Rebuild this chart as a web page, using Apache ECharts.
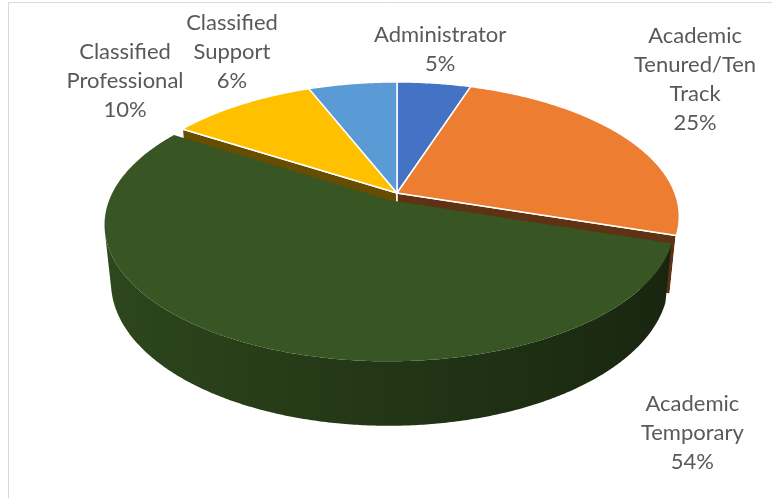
<!DOCTYPE html>
<html>
<head>
<meta charset="utf-8">
<script src="https://cdn.jsdelivr.net/npm/echarts@6/dist/echarts.min.js"></script>
<style>
  html, body { margin: 0; padding: 0; background: #ffffff; }
  #chart { width: 772px; height: 498px; }
</style>
</head>
<body>
<div id="chart"></div>
<script>
// Staff mix by employee group (share of headcount, %)
const categories = ['Administrator', 'Academic Tenured/Ten Track', 'Academic Temporary', 'Classified Professional', 'Classified Support'];
const labelLines = [['Administrator'], ['Academic', 'Tenured/Ten', 'Track'], ['Academic', 'Temporary'], ['Classified', 'Professional'], ['Classified', 'Support']];
const shares = [5, 25, 54, 10, 6];

// slice styling
const sliceColors = ['#4472C4', '#ED7D31', '#375623', '#FFC000', '#5B9BD5'];
const sliceEdges = ['#ffffff', '#ffffff', null, '#ffffff', '#ffffff'];
const explodeBy = [0, 0, 0.06, 0, 0];
// label anchors around the disc: [degrees clockwise from 12 o'clock, distance in radii]
const labelPlace = [[8, 1.381], [51, 1.625], [150, 1.61], [311.3, 1.531], [331.2, 1.517]];

const RAD = Math.PI / 180;
const total = shares.reduce((a, b) => a + b, 0);
const startDeg = [];
(function () { let acc = 0; shares.forEach(v => { startDeg.push(acc / total * 360); acc += v; }); })();

// camera: unit disc, y up, z toward the viewer, perspective projection
const VIEW = { cx: 397, cy: 193, k: 278, tilt: 27.97, dist: 5.08, thick: 0.235 };
const SIN = Math.sin(VIEW.tilt * RAD), COS = Math.cos(VIEW.tilt * RAD);
const CAM = [0, VIEW.dist * SIN, VIEW.dist * COS];

function project(p) {
  const depth = p[2] * COS + p[1] * SIN;
  const s = VIEW.dist / (VIEW.dist - depth);
  return [VIEW.cx + VIEW.k * p[0] * s, VIEW.cy + VIEW.k * (p[2] * SIN - p[1] * COS) * s];
}
function depthOf(p) { return p[2] * COS + p[1] * SIN; }
function faces(n, p) {
  return n[0] * (CAM[0] - p[0]) + n[1] * (CAM[1] - p[1]) + n[2] * (CAM[2] - p[2]) > 0;
}
function shade(hex, f) {
  const v = parseInt(hex.slice(1), 16);
  const r = Math.round(((v >> 16) & 255) * f), g = Math.round(((v >> 8) & 255) * f), b = Math.round((v & 255) * f);
  return 'rgb(' + r + ',' + g + ',' + b + ')';
}
function wallShade(deg) { return 0.63 - 0.21 * Math.sin(deg * RAD); }

function renderSlice(params, api) {
  const i = params.dataIndex;
  const v = api.value(0);
  const a0 = startDeg[i];
  const a1 = a0 + v / total * 360;
  const mid = (a0 + a1) / 2 * RAD;
  const e = explodeBy[i];
  const ox = e * Math.sin(mid), oz = -e * Math.cos(mid);
  const H = VIEW.thick;
  const rim = (deg, y) => [ox + Math.sin(deg * RAD), y, oz - Math.cos(deg * RAD)];
  const base = sliceColors[i];
  const edge = sliceEdges[i];
  const lineStyle = edge ? { stroke: edge, lineWidth: 1.5, lineJoin: 'round' } : { stroke: null, lineWidth: 0 };
  const children = [];

  // top face
  const steps = Math.max(2, Math.ceil((a1 - a0) / 0.5));
  const topPts = [project([ox, 0, oz])];
  for (let s = 0; s <= steps; s++) topPts.push(project(rim(a0 + (a1 - a0) * s / steps, 0)));
  children.push({ type: 'polygon', z2: 1000, shape: { points: topPts }, style: Object.assign({ fill: base }, lineStyle) });

  // outer wall, only the parts turned toward the camera
  const runs = [];
  let cur = null;
  for (let s = 0; s <= steps; s++) {
    const d = a0 + (a1 - a0) * s / steps;
    const n = [Math.sin(d * RAD), 0, -Math.cos(d * RAD)];
    if (faces(n, rim(d, -H / 2))) {
      if (!cur) { cur = []; runs.push(cur); }
      cur.push(d);
    } else cur = null;
  }
  runs.forEach(run => {
    if (run.length < 2) return;
    const upper = run.map(d => project(rim(d, 0)));
    const lower = run.map(d => project(rim(d, -H))).reverse();
    const xs = upper.map(p => p[0]);
    const minX = Math.min.apply(null, xs), maxX = Math.max.apply(null, xs);
    const stops = [];
    const nStops = 10;
    for (let q = 0; q <= nStops; q++) {
      const d = run[Math.round((run.length - 1) * q / nStops)];
      const x = project(rim(d, 0))[0];
      stops.push({ offset: maxX > minX ? (x - minX) / (maxX - minX) : 0, color: shade(base, wallShade(d)) });
    }
    stops.sort((a, b) => a.offset - b.offset);
    const midDeg = run[Math.floor(run.length / 2)];
    children.push({
      type: 'polygon',
      z2: 100 + depthOf(rim(midDeg, -H / 2)) * 50,
      shape: { points: upper.concat(lower) },
      style: Object.assign({ fill: new echarts.graphic.LinearGradient(minX, 0, maxX, 0, stops, true) }, lineStyle)
    });
  });

  // radial cut faces
  [[a0, a0 - 90], [a1, a1 + 90]].forEach(([d, nd]) => {
    const n = [Math.sin(nd * RAD), 0, -Math.cos(nd * RAD)];
    const quad = [[ox, 0, oz], rim(d, 0), rim(d, -H), [ox, -H, oz]];
    const c = [0, 1, 2].map(k => quad.reduce((s, p) => s + p[k], 0) / 4);
    if (!faces(n, c)) return;
    children.push({
      type: 'polygon',
      z2: 100 + depthOf(c) * 50,
      shape: { points: quad.map(project) },
      style: Object.assign({ fill: shade(base, 0.4) }, lineStyle)
    });
  });

  // data label
  const lp = labelPlace[i];
  const pos = project([lp[1] * Math.sin(lp[0] * RAD), 0, -lp[1] * Math.cos(lp[0] * RAD)]);
  children.push({
    type: 'text',
    z2: 2000,
    x: pos[0],
    y: pos[1],
    style: {
      text: labelLines[i].concat([Math.round(v / total * 100) + '%']).join('\n'),
      align: 'center',
      verticalAlign: 'middle',
      font: '22px Lato',
      lineHeight: 29,
      fill: '#595959'
    }
  });

  return { type: 'group', children: children };
}

const chart = echarts.init(document.getElementById('chart'), null, { renderer: 'canvas' });
chart.setOption({
  animation: false,
  backgroundColor: '#ffffff',
  graphic: [{
    type: 'rect',
    shape: { x: 8.5, y: 2.5, width: 800, height: 560 },
    style: { fill: null, stroke: '#D9D9D9', lineWidth: 1 },
    silent: true
  }],
  series: [{
    type: 'custom',
    coordinateSystem: 'none',
    renderItem: renderSlice,
    data: shares.map((v, i) => ({ name: categories[i], value: [v] }))
  }]
});
</script>
</body>
</html>
